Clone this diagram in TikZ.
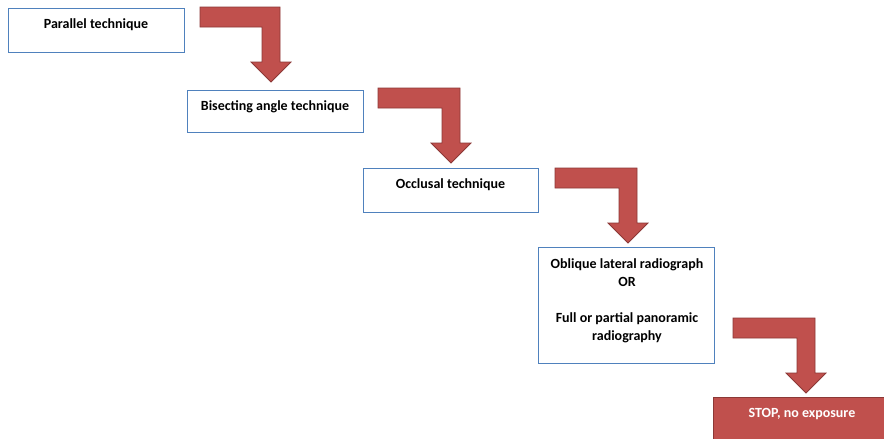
\documentclass[tikz,border=0pt]{standalone}
\usepackage{fontspec}
\setmainfont{Carlito}
\definecolor{boxblue}{HTML}{4F81BD}
\definecolor{arrowred}{HTML}{C0504D}
\definecolor{arrowdark}{HTML}{8C3836}
\newcommand\blockarrow[3]{%
  \draw[barrow] (#1,#2) -- (#3,#2) -- (#3,#2+55) -- (#3+11,#2+55) -- (#3-9,#2+75)
    -- (#3-29,#2+55) -- (#3-18,#2+55) -- (#3-18,#2+20) -- (#1,#2+20) -- cycle;}
\begin{document}
\begin{tikzpicture}[x=1pt,y=-1pt,
  box/.style={draw=boxblue, line width=1.3pt, fill=white, inner sep=0pt, anchor=north west},
  lbl/.style={font=\fontsize{14}{18}\selectfont\bfseries, align=center, inner sep=0pt, anchor=base},
  barrow/.style={fill=arrowred, draw=arrowdark, line width=0.8pt, line join=miter}]
\useasboundingbox (0,0) rectangle (884,439);
\fill[white] (0,0) rectangle (884,439);

% boxes
\node[box, minimum width=176pt, minimum height=44pt] (b1) at (8,8) {};
\node[box, minimum width=176pt, minimum height=42pt] (b2) at (187,90) {};
\node[box, minimum width=175pt, minimum height=44pt] (b3) at (363,168) {};
\node[box, minimum width=176pt, minimum height=116pt] (b4) at (538,247) {};
\node[box, fill=arrowred, draw=arrowdark, line width=0.8pt, minimum width=176pt, minimum height=46pt] (b5) at (713,397) {};

% labels
\node[lbl] (t1) at (96,28) {Parallel technique};
\node[lbl] (t2) at (275,110) {Bisecting angle technique};
\node[lbl] (t3) at (450.5,188) {Occlusal technique};
\node[lbl] (t4) at (627,340) {Oblique lateral radiograph\\OR\\[18pt]Full or partial panoramic\\radiography};
\node[lbl, text=white] (t5) at (802,417) {STOP, no exposure};

% bent block arrows
\blockarrow{200}{7}{280}
\blockarrow{378}{88}{460}
\blockarrow{555}{168}{637}
\blockarrow{733}{318}{815}
\end{tikzpicture}
\end{document}
